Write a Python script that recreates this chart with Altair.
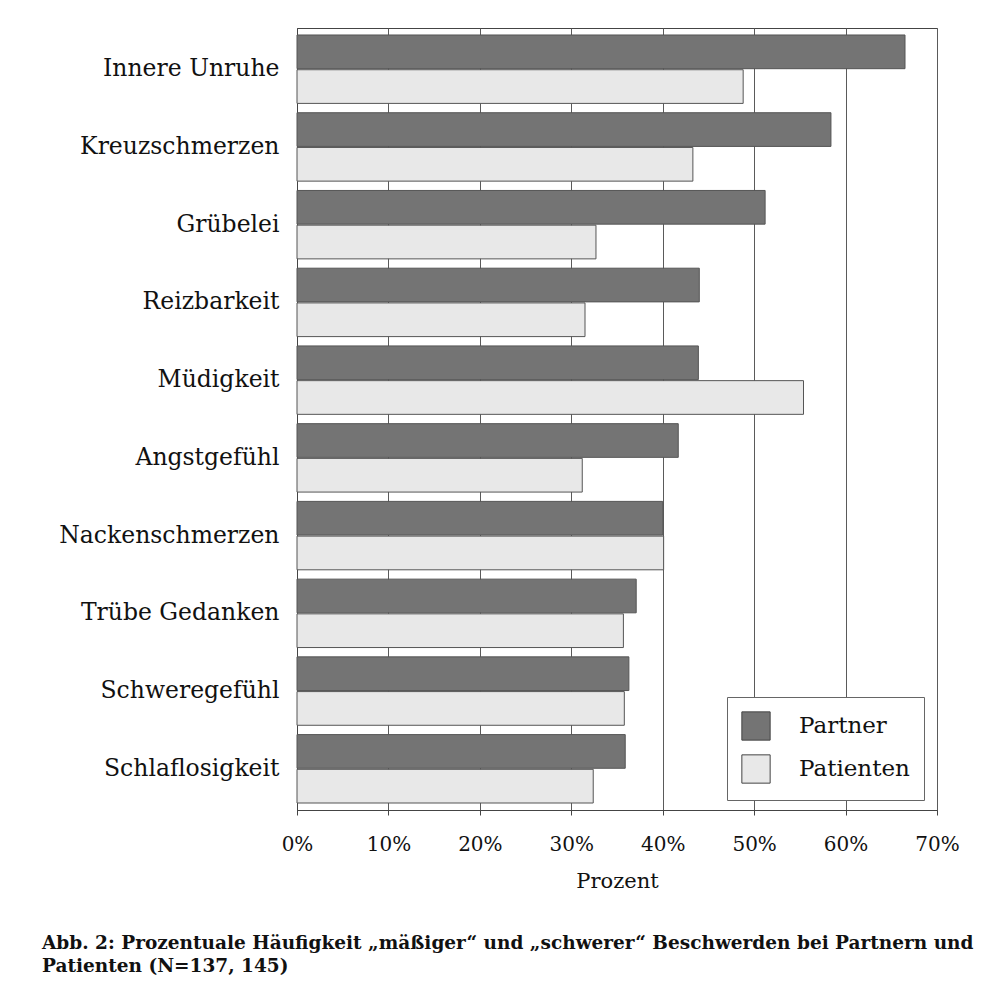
import altair as alt
import pandas as pd

categories = ["Innere Unruhe", "Kreuzschmerzen", "Grübelei", "Reizbarkeit", "Müdigkeit",
              "Angstgefühl", "Nackenschmerzen", "Trübe Gedanken", "Schweregefühl", "Schlaflosigkeit"]
partner = [66.5, 58.4, 51.2, 44.0, 43.9, 41.7, 40.0, 37.1, 36.3, 35.9]
patienten = [48.8, 43.3, 32.7, 31.5, 55.4, 31.2, 40.1, 35.7, 35.8, 32.4]
groups = ["Partner", "Patienten"]
tick_values = [0, 10, 20, 30, 40, 50, 60, 70]

rows = []
for c, a, b in zip(categories, partner, patienten):
    rows.append({"Beschwerde": c, "Gruppe": groups[0], "Wert": a})
    rows.append({"Beschwerde": c, "Gruppe": groups[1], "Wert": b})
df = pd.DataFrame(rows)

serif = "DejaVu Serif"

bars = alt.Chart(df).mark_bar(stroke="#555555", strokeWidth=1).encode(
    x=alt.X("Wert:Q",
            scale=alt.Scale(domain=[0, 70], nice=False),
            axis=alt.Axis(values=tick_values, labelExpr="datum.value + '%'",
                          labelFlush=False,
                          title="Prozent", titleFont=serif, titleFontSize=21,
                          titleFontWeight="normal", titleColor="#111", titlePadding=16,
                          labelFont=serif, labelFontSize=20, labelColor="#111",
                          labelPadding=19, grid=True, gridColor="#5a5a5a",
                          gridWidth=1, tickColor="#444", tickSize=5,
                          domainColor="#444")),
    y=alt.Y("Beschwerde:N", sort=categories,
            scale=alt.Scale(paddingInner=0.12, paddingOuter=0.09),
            axis=alt.Axis(title=None, labelFont=serif, labelFontSize=23.5,
                          labelColor="#111", labelPadding=18, labelLimit=400,
                          ticks=False, domainColor="#444")),
    yOffset=alt.YOffset("Gruppe:N", sort=groups, scale=alt.Scale(paddingInner=0.03)),
    color=alt.Color("Gruppe:N", sort=groups,
                    scale=alt.Scale(domain=groups, range=["#747474", "#e8e8e8"]),
                    legend=alt.Legend(title=None, orient="none", legendX=430, legendY=669,
                                      direction="vertical", symbolType="square",
                                      symbolSize=800, symbolStrokeColor="#444",
                                      symbolStrokeWidth=1, labelFont=serif,
                                      labelFontSize=23, labelColor="#111",
                                      labelOffset=28, rowPadding=9, padding=14,
                                      strokeColor="#666666", fillColor="white")),
)

chart = bars.properties(
    width=640,
    height=782,
    autosize=alt.AutoSizeParams(type="none"),
    padding={"left": 289, "top": 20, "right": 38, "bottom": 173},
    background="white",
    title=alt.TitleParams(
        text=["Abb. 2: Prozentuale Häufigkeit „mäßiger“ und „schwerer“ Beschwerden bei Partnern und",
              "Patienten (N=137, 145)"],
        orient="bottom", anchor="start", frame="group", dx=-255, offset=43,
        font=serif, fontSize=18.5, fontWeight="bold", color="#111",
        lineHeight=23),
).configure_view(stroke="#444444", strokeWidth=1)

chart.save("out.html", embed_options={"renderer": "svg", "actions": False})
